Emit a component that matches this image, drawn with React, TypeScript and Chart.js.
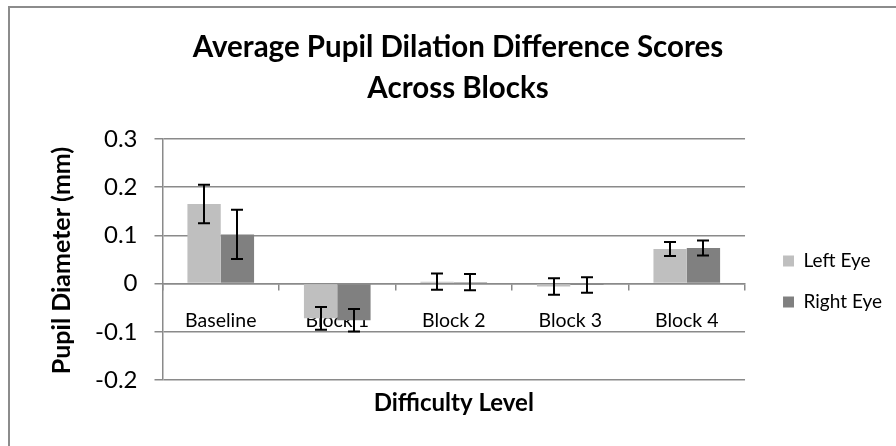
import React, { useEffect, useRef } from 'react';
import { Chart, registerables } from 'chart.js';

Chart.register(...registerables);

const categories = ['Baseline', 'Block 1', 'Block 2', 'Block 3', 'Block 4'];
const seriesNames = ['Left Eye', 'Right Eye'];
const leftEye = [0.165, -0.072, 0.004, -0.006, 0.072];
const rightEye = [0.102, -0.076, 0.003, -0.003, 0.074];
const leftEyeErr = [0.04, 0.0235, 0.017, 0.017, 0.0145];
const rightEyeErr = [0.051, 0.0235, 0.017, 0.016, 0.0155];
const titleLines = ['Average Pupil Dilation Difference Scores', 'Across Blocks'];
const yTitle = 'Pupil Diameter (mm)';
const xTitle = 'Difficulty Level';

const FONT = 'Lato';
const GRID = '#8a8a8a';

const errors = [leftEyeErr, rightEyeErr];

const frame = {
  id: 'frame',
  beforeDraw(chart: any) {
    const { ctx, width, height } = chart;
    ctx.save();
    ctx.fillStyle = '#ffffff';
    ctx.fillRect(0, 0, width, height);
    ctx.fillStyle = '#8c8c8c';
    ctx.fillRect(8, 6, width - 8, 2);
    ctx.fillRect(8, 6, 2, height - 6);
    ctx.restore();
  },
};

const yAxisTitle = {
  id: 'yAxisTitle',
  afterDraw(chart: any) {
    const { ctx, chartArea } = chart;
    ctx.save();
    ctx.translate(62, (chartArea.top + chartArea.bottom) / 2 + 1);
    ctx.rotate(-Math.PI / 2);
    ctx.fillStyle = '#000';
    ctx.font = `bold 25px ${FONT}`;
    ctx.textAlign = 'center';
    ctx.textBaseline = 'middle';
    ctx.fillText(yTitle, 0, 0);
    ctx.restore();
  },
};

const errorBars = {
  id: 'errorBars',
  afterDatasetsDraw(chart: any) {
    const { ctx } = chart;
    const y = chart.scales.y;
    ctx.save();
    ctx.strokeStyle = '#000000';
    ctx.lineWidth = 2;
    chart.data.datasets.forEach((ds: any, i: number) => {
      const meta = chart.getDatasetMeta(i);
      meta.data.forEach((bar: any, j: number) => {
        const v = ds.data[j];
        const e = errors[i][j];
        const x = Math.round(bar.x);
        const yt = y.getPixelForValue(v + e);
        const yb = y.getPixelForValue(v - e);
        ctx.beginPath();
        ctx.moveTo(x, yt);
        ctx.lineTo(x, yb);
        ctx.moveTo(x - 6, yt);
        ctx.lineTo(x + 6, yt);
        ctx.moveTo(x - 6, yb);
        ctx.lineTo(x + 6, yb);
        ctx.stroke();
      });
    });
    ctx.restore();
  },
};

export default function App() {
  const ref = useRef<HTMLCanvasElement>(null);
  useEffect(() => {
    if (!ref.current) return;
    const chart = new Chart(ref.current, {
      type: 'bar',
      data: {
        labels: categories,
        datasets: [
          { label: seriesNames[0], data: leftEye, backgroundColor: '#bfbfbf', borderWidth: 0, xAxisID: 'x', yAxisID: 'y' },
          { label: seriesNames[1], data: rightEye, backgroundColor: '#808080', borderWidth: 0, xAxisID: 'x', yAxisID: 'y' },
        ],
      },
      options: {
        responsive: false,
        animation: false,
        devicePixelRatio: 1,
        datasets: { bar: { barPercentage: 1, categoryPercentage: 0.572 } },
        layout: { padding: { left: 24, right: 4, top: 0, bottom: 28.6 } },
        plugins: {
          tooltip: { enabled: false },
          title: {
            display: true,
            text: titleLines,
            color: '#000',
            font: { family: FONT, size: 29.5, weight: 'bold', lineHeight: 1.39 },
            padding: { top: 27, bottom: 30 },
          },
          legend: {
            position: 'right',
            fullSize: false,
            title: { display: true, text: '', font: { size: 10 }, padding: { top: 32, bottom: 0 } },
            labels: {
              color: '#000',
              font: { family: FONT, size: 19 },
              boxWidth: 11,
              boxHeight: 11,
              padding: 22,
            },
          },
        },
        scales: {
          x: {
            type: 'category',
            position: { y: 0 } as any,
            grid: { display: true, drawOnChartArea: false, drawTicks: true, tickLength: 6, offset: true, color: GRID, lineWidth: 1.5 },
            border: { display: true, color: GRID, width: 1.5 },
            ticks: { color: '#000', font: { family: FONT, size: 19.5 }, padding: 19, maxRotation: 0, autoSkip: false },
          },
          x2: {
            type: 'category',
            position: 'bottom',
            labels: categories,
            grid: { display: false, drawTicks: false },
            border: { display: false },
            ticks: { display: false },
            title: { display: true, text: xTitle, color: '#000', font: { family: FONT, size: 24, weight: 'bold' }, padding: { top: 8.6, bottom: 0 } },
          },
          y: {
            type: 'linear',
            position: 'left',
            min: -0.2,
            max: 0.3,
            afterFit: (s: any) => { s.width = 138.5; },
            ticks: {
              stepSize: 0.1,
              color: '#000',
              font: { family: FONT, size: 24 },
              padding: 17,
              callback: (v: any) => String(parseFloat(Number(v).toFixed(1))),
            },
            grid: { color: GRID, lineWidth: 1.5, tickLength: 8, drawTicks: true },
            border: { display: true, color: GRID, width: 1.5 },
            title: { display: false },
          },
          spacer: {
            type: 'linear',
            position: 'right',
            display: true,
            afterFit: (s: any) => { s.width = 16; },
            grid: { display: false, drawTicks: false },
            border: { display: false },
            ticks: { display: false },
          },
        },
      },
      plugins: [frame, errorBars, yAxisTitle],
    });
    return () => chart.destroy();
  }, []);
  return (
    <div style={{ position: 'fixed', left: 0, top: 0, width: 896, height: 446, background: '#fff' }}>
      <canvas ref={ref} width={896} height={446} style={{ display: 'block', width: 896, height: 446 }} />
    </div>
  );
}
